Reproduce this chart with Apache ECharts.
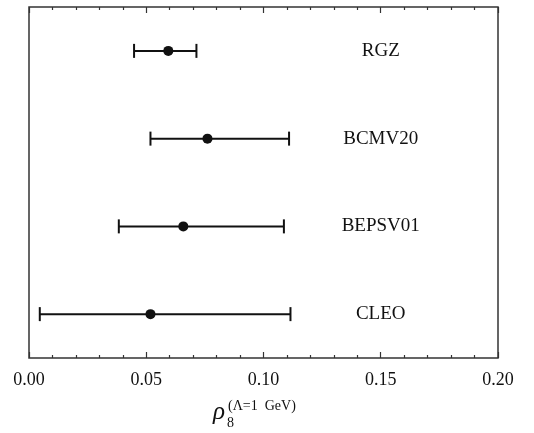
<!DOCTYPE html>
<html>
<head>
<meta charset="utf-8">
<script src="https://cdn.jsdelivr.net/npm/echarts@6/dist/echarts.min.js"></script>
<style>
  html, body { margin: 0; padding: 0; background: #fff; }
  #chart { width: 534px; height: 433px; }
</style>
</head>
<body>
<div id="chart"></div>
<script>
// measurements, bottom to top
const experiments = ['CLEO', 'BEPSV01', 'BCMV20', 'RGZ'];
const centralValues = [0.0518, 0.0658, 0.0761, 0.0594];
const lowerValues = [0.0046, 0.0383, 0.0518, 0.0448];
const upperValues = [0.1115, 0.1087, 0.1109, 0.0714];
const labelX = [0.15, 0.15, 0.15, 0.15];
const xTicks = [0, 0.05, 0.1, 0.15, 0.2];

const serif = '"Liberation Serif", "DejaVu Serif", serif';
const ink = '#111';

const chart = echarts.init(document.getElementById('chart'));

const xAxisBase = {
  type: 'value',
  min: xTicks[0],
  max: xTicks[xTicks.length - 1],
  interval: 0.05,
  axisLine: { show: false, onZero: false },
  splitLine: { show: false },
  axisTick: { show: true, inside: true, length: 6, lineStyle: { color: '#333', width: 1.2 } },
  minorTick: { show: true, splitNumber: 5, length: 3, lineStyle: { color: '#333', width: 1.2 } }
};

const option = {
  animation: false,
  backgroundColor: '#fff',
  grid: {
    left: 29, right: 36, top: 7, bottom: 75,
    show: true, borderColor: '#333', borderWidth: 1.5, backgroundColor: 'transparent'
  },
  xAxis: [
    Object.assign({}, xAxisBase, {
      position: 'bottom',
      axisLabel: {
        color: ink, fontFamily: serif, fontSize: 18, margin: 13,
        formatter: v => v.toFixed(2)
      }
    }),
    Object.assign({}, xAxisBase, {
      position: 'top',
      axisLabel: { show: false }
    })
  ],
  yAxis: {
    type: 'value', min: -0.5, max: 3.5,
    show: false
  },
  graphic: [
    { type: 'text', left: 213, top: 400,
      style: { text: 'ρ', font: 'italic 25px ' + serif, fill: ink } },
    { type: 'text', left: 227, top: 416,
      style: { text: '8', font: '14px ' + serif, fill: ink } },
    { type: 'text', left: 228, top: 399,
      style: { text: '(Λ=1  GeV)', font: '14px ' + serif, fill: ink } }
  ],
  series: [
    {
      type: 'custom',
      renderItem: (params, api) => {
        const y = api.value(0);
        const lo = api.coord([api.value(1), y]);
        const hi = api.coord([api.value(2), y]);
        const cap = 7;
        const style = { stroke: ink, lineWidth: 2 };
        return {
          type: 'group',
          children: [
            { type: 'line', shape: { x1: lo[0], y1: lo[1], x2: hi[0], y2: hi[1] }, style },
            { type: 'line', shape: { x1: lo[0], y1: lo[1] - cap, x2: lo[0], y2: lo[1] + cap }, style },
            { type: 'line', shape: { x1: hi[0], y1: hi[1] - cap, x2: hi[0], y2: hi[1] + cap }, style }
          ]
        };
      },
      encode: { x: [1, 2], y: 0 },
      data: experiments.map((_, i) => [i, lowerValues[i], upperValues[i]]),
      z: 2
    },
    {
      type: 'scatter',
      symbol: 'circle',
      symbolSize: 10,
      itemStyle: { color: ink, opacity: 1 },
      data: experiments.map((_, i) => [centralValues[i], i]),
      z: 3
    },
    {
      type: 'scatter',
      symbolSize: 0,
      silent: true,
      itemStyle: { opacity: 1 },
      label: {
        show: true, position: 'inside', opacity: 1,
        color: ink, fontFamily: serif, fontSize: 19,
        formatter: p => experiments[p.dataIndex]
      },
      data: experiments.map((_, i) => [labelX[i], i])
    }
  ]
};

chart.setOption(option);
</script>
</body>
</html>
